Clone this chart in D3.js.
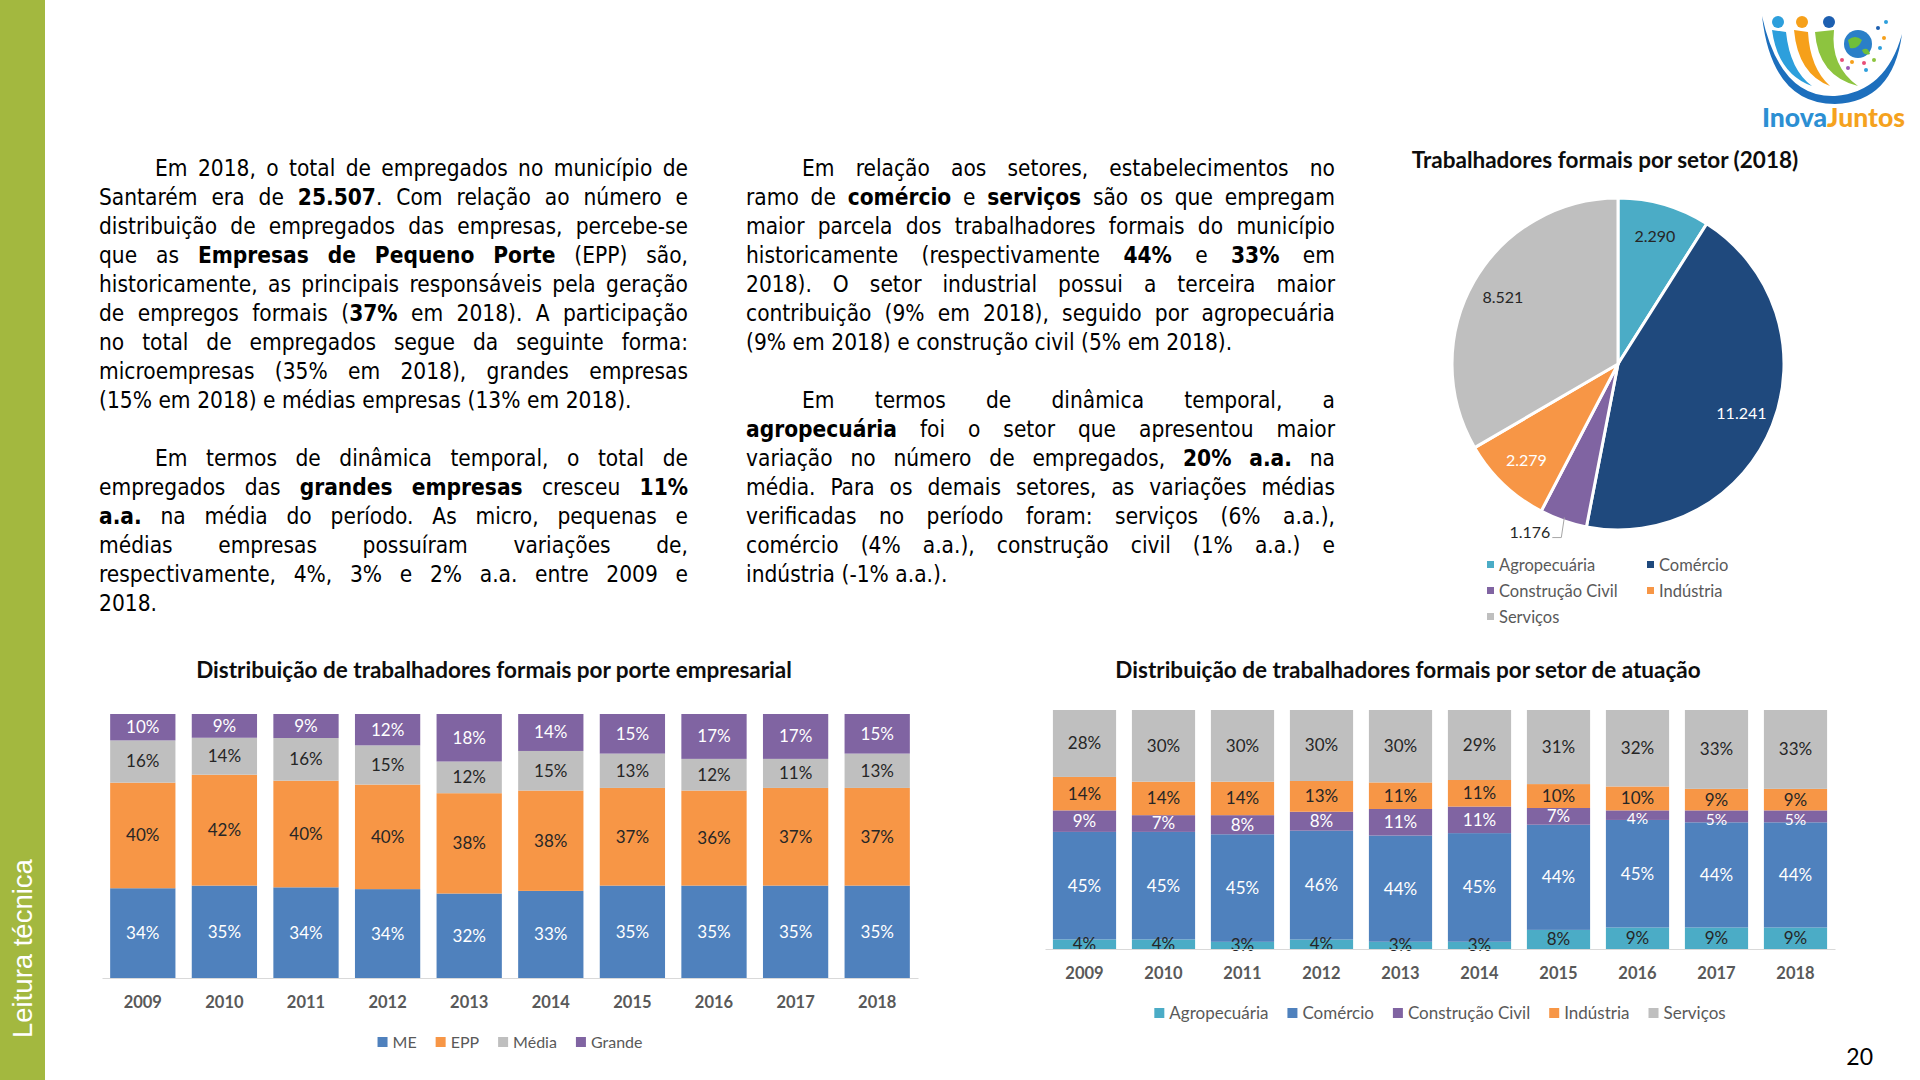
<!DOCTYPE html>
<html>
<head>
<meta charset="utf-8">
<script src="https://cdn.jsdelivr.net/npm/d3@7"></script>
<style>
  html, body { margin: 0; padding: 0; background: #fff; }
  svg { display: block; }
</style>
</head>
<body>
<script>
// data
const years = ['2009', '2010', '2011', '2012', '2013', '2014', '2015', '2016', '2017', '2018'];

// porte empresarial (%)
const porteKeys = ['ME', 'EPP', 'Média', 'Grande'];
const me = [34, 35, 34, 34, 32, 33, 35, 35, 35, 35];
const epp = [40, 42, 40, 40, 38, 38, 37, 36, 37, 37];
const media = [16, 14, 16, 15, 12, 15, 13, 12, 11, 13];
const grande = [10, 9, 9, 12, 18, 14, 15, 17, 17, 15];

// setor de atuação (%)
const setorKeys = ['Agropecuária', 'Comércio', 'Construção Civil', 'Indústria', 'Serviços'];
const agro = [4, 4, 3, 4, 3, 3, 8, 9, 9, 9];
const comercio = [45, 45, 45, 46, 44, 45, 44, 45, 44, 44];
const construcao = [9, 7, 8, 8, 11, 11, 7, 4, 5, 5];
const industria = [14, 14, 14, 13, 11, 11, 10, 10, 9, 9];
const servicos = [28, 30, 30, 30, 30, 29, 31, 32, 33, 33];

// pizza 2018
const pieLabels = ['Agropecuária', 'Comércio', 'Construção Civil', 'Indústria', 'Serviços'];
const pieValues = [2290, 11241, 1176, 2279, 8521];

// texto
const textLeft = [
	['Em 2018, o total de empregados no município de', 'Santarém era de **25.507**. Com relação ao número e', 'distribuição de empregados das empresas, percebe-se', 'que as **Empresas de Pequeno Porte** (EPP) são,', 'historicamente, as principais responsáveis pela geração', 'de empregos formais (**37%** em 2018). A participação', 'no total de empregados segue da seguinte forma:', 'microempresas (35% em 2018), grandes empresas', '(15% em 2018) e médias empresas (13% em 2018).'],
	['Em termos de dinâmica temporal, o total de', 'empregados das **grandes empresas** cresceu **11%**', '**a.a.** na média do período. As micro, pequenas e', 'médias empresas possuíram variações de,', 'respectivamente, 4%, 3% e 2% a.a. entre 2009 e', '2018.']
];
const textRight = [
	['Em relação aos setores, estabelecimentos no', 'ramo de **comércio** e **serviços** são os que empregam', 'maior parcela dos trabalhadores formais do município', 'historicamente (respectivamente **44%** e **33%** em', '2018). O setor industrial possui a terceira maior', 'contribuição (9% em 2018), seguido por agropecuária', '(9% em 2018) e construção civil (5% em 2018).'],
	['Em termos de dinâmica temporal, a', '**agropecuária** foi o setor que apresentou maior', 'variação no número de empregados, **20% a.a.** na', 'média. Para os demais setores, as variações médias', 'verificadas no período foram: serviços (6% a.a.),', 'comércio (4% a.a.), construção civil (1% a.a.) e', 'indústria (-1% a.a.).']
];

const chartFont = 'Lato, "Open Sans", sans-serif';
const bodyFont = '"DejaVu Sans Condensed", "DejaVu Sans", sans-serif';

const svg = d3.select('body').append('svg')
	.attr('width', 1920)
	.attr('height', 1080);

// barra lateral
svg.append('rect')
	.attr('x', 0).attr('y', 0)
	.attr('width', 45).attr('height', 1080)
	.attr('fill', '#a3b83f');

svg.append('text')
	.attr('transform', 'translate(32, 1038) rotate(-90)')
	.attr('fill', '#fff')
	.style('font-family', '"Liberation Sans", Arial, sans-serif')
	.style('font-size', '27.5px')
	.text('Leitura técnica');

// número da página
svg.append('text')
	.attr('x', 1873).attr('y', 1065)
	.attr('text-anchor', 'end')
	.style('font-family', chartFont)
	.style('font-size', '23px')
	.attr('fill', '#000')
	.text('20');

// logo
const logo = svg.append('g');
logo.append('path')
	.attr('d', 'M1762,16 Q1772,104 1835,104 Q1893,102 1902,34 Q1886,92 1835,96 Q1780,98 1762,16 Z')
	.attr('fill', '#1d6fbd');
logo.append('path')
	.attr('d', 'M1772,30 Q1778,74 1812,86 Q1790,70 1786,32 Z')
	.attr('fill', '#2d9fdc');
logo.append('path')
	.attr('d', 'M1794,30 Q1798,74 1830,86 Q1810,68 1808,32 Z')
	.attr('fill', '#f6a01a');
logo.append('path')
	.attr('d', 'M1815,32 Q1818,76 1858,86 Q1830,66 1834,30 Z')
	.attr('fill', '#8dc43f');
[[1778, 22, 6, '#2d9fdc'], [1802, 22, 6, '#f6a01a'], [1829, 22, 6, '#1d5fb0'], [1858, 44, 14, '#2a7fc8']].forEach(c => {
	logo.append('circle').attr('cx', c[0]).attr('cy', c[1]).attr('r', c[2]).attr('fill', c[3]);
});
logo.append('path')
	.attr('d', 'M1848,40 Q1855,34 1862,40 Q1858,50 1850,48 Z M1862,50 Q1868,46 1870,54 Q1864,56 1862,50 Z')
	.attr('fill', '#6fbf3a');
[[1842, 60, '#e94e77'], [1852, 62, '#f6a01a'], [1864, 63, '#e94e77'], [1874, 60, '#8dc43f'], [1848, 68, '#9b59b6'], [1866, 70, '#2d9fdc'], [1880, 48, '#2d9fdc'], [1878, 28, '#1d5fb0'], [1886, 22, '#2d9fdc'], [1884, 38, '#f6a01a']].forEach(c => {
	logo.append('circle').attr('cx', c[0]).attr('cy', c[1]).attr('r', 2).attr('fill', c[2]);
});
const logoText = logo.append('text')
	.attr('x', 1762).attr('y', 127)
	.style('font-family', chartFont)
	.style('font-weight', 900)
	.style('font-size', '26.5px');
logoText.append('tspan').attr('fill', '#2c8fd3').text('Inova');
logoText.append('tspan').attr('fill', '#f5a21e').text('Juntos');

// texto justificado
const fs = 22.5;
const lineH = 29;

function parseWords(str) {
	const words = [];
	let cur = [];
	str.split('**').forEach((part, i) => {
		const bold = i % 2 === 1;
		part.split(' ').forEach((piece, j) => {
			if (j > 0 && cur.length) { words.push(cur); cur = []; }
			if (piece) cur.push({ t: piece, b: bold });
		});
	});
	if (cur.length) words.push(cur);
	return words;
}

function drawParagraphs(paras, x0, width, y0) {
	const g = svg.append('g')
		.style('font-family', bodyFont)
		.style('font-stretch', 'condensed')
		.style('font-size', fs + 'px')
		.attr('fill', '#000');
	let row = 0;
	paras.forEach(lines => {
		lines.forEach((line, li) => {
			const indent = li === 0 ? 56 : 0;
			const last = li === lines.length - 1;
			const y = y0 + row * lineH;
			const nodes = parseWords(line).map(w => {
				const t = g.append('text').attr('y', y);
				w.forEach(r => t.append('tspan').style('font-weight', r.b ? 'bold' : 'normal').text(r.t));
				return { node: t, w: t.node().getComputedTextLength() };
			});
			const total = d3.sum(nodes, d => d.w);
			const avail = width - indent;
			const gap = last || nodes.length < 2 ? fs * 0.29 : (avail - total) / (nodes.length - 1);
			let x = x0 + indent;
			nodes.forEach(d => {
				d.node.attr('x', x);
				x += d.w + gap;
			});
			row++;
		});
		row++;
	});
}

drawParagraphs(textLeft, 99, 589, 176);
drawParagraphs(textRight, 746, 589, 176);

// gráficos de barras empilhadas (100%)
function legend(keys, colors, cx, cy, size, sqr) {
	const g = svg.append('g')
		.style('font-family', chartFont)
		.style('font-size', size + 'px')
		.attr('fill', '#595959');
	const items = keys.map(k => {
		const it = g.append('g');
		it.append('rect').attr('width', sqr).attr('height', sqr).attr('y', cy - sqr / 2).attr('fill', colors(k));
		const t = it.append('text').attr('x', sqr + 5).attr('y', cy).attr('dy', '0.35em').text(k);
		return { it, w: sqr + 5 + t.node().getComputedTextLength() };
	});
	const spacing = 19;
	const total = d3.sum(items, d => d.w) + spacing * (items.length - 1);
	let x = cx - total / 2;
	items.forEach(d => {
		d.it.attr('transform', `translate(${x},0)`);
		x += d.w + spacing;
	});
}

function stackedChart(opts) {
	const { keys, series, colors, whiteLabels, xRange, yRange, title, titleX, titleY, legendY, legendSize } = opts;
	const rows = years.map((yr, i) => {
		const r = { year: yr };
		keys.forEach((k, j) => { r[k] = series[j][i]; });
		return r;
	});

	const xScale = d3.scaleBand()
		.domain(years)
		.range(xRange)
		.paddingInner(0.2)
		.paddingOuter(0.1);

	const yScale = d3.scaleLinear()
		.domain([0, 1])
		.range(yRange);

	const color = d3.scaleOrdinal().domain(keys).range(colors);

	const stacked = d3.stack().keys(keys).offset(d3.stackOffsetExpand)(rows);

	const g = svg.append('g');

	const layer = g.selectAll('g.layer')
		.data(stacked)
		.join('g')
		.attr('class', 'layer')
		.attr('fill', d => color(d.key));

	layer.selectAll('rect')
		.data(d => d)
		.join('rect')
		.attr('x', d => xScale(d.data.year))
		.attr('width', xScale.bandwidth())
		.attr('y', d => yScale(d[1]))
		.attr('height', d => yScale(d[0]) - yScale(d[1]));

	// rótulos: segmentos finos (acima da base) ganham fonte menor e leve deslocamento
	stacked.forEach((s, si) => {
		g.append('g')
			.style('font-family', chartFont)
			.attr('fill', whiteLabels.includes(s.key) ? '#fff' : '#262626')
			.attr('text-anchor', 'middle')
			.selectAll('text')
			.data(s)
			.join('text')
			.each(function (d) {
				const h = yScale(d[0]) - yScale(d[1]);
				const thin = si > 0 && h < 16;
				d3.select(this)
					.style('font-size', thin ? '15.5px' : '17px')
					.attr('x', xScale(d.data.year) + xScale.bandwidth() / 2)
					.attr('y', (yScale(d[0]) + yScale(d[1])) / 2 + (thin ? 3 : 0))
					.attr('dy', '0.35em')
					.text(d.data[s.key] + '%');
			});
	});

	const xAxis = d3.axisBottom(xScale).tickSize(0).tickSizeOuter(0).tickPadding(18);
	const ax = g.append('g')
		.attr('transform', `translate(0, ${yRange[0]})`)
		.call(xAxis);
	ax.select('.domain').attr('stroke', '#d9d9d9');
	ax.selectAll('text')
		.style('font-family', chartFont)
		.style('font-size', '16.5px')
		.style('font-weight', 'bold')
		.attr('fill', '#595959');

	svg.append('text')
		.attr('x', titleX)
		.attr('y', titleY)
		.attr('text-anchor', 'middle')
		.style('font-family', chartFont)
		.style('font-size', '22.5px')
		.style('font-weight', 'bold')
		.attr('fill', '#0d0d0d')
		.text(title);

	legend(keys, color, (xRange[0] + xRange[1]) / 2, legendY, legendSize, 10);
}

stackedChart({
	keys: porteKeys,
	series: [me, epp, media, grande],
	colors: ['#4f81bd', '#f79646', '#bfbfbf', '#8064a2'],
	whiteLabels: ['ME', 'Grande'],
	xRange: [102, 918],
	yRange: [978, 714],
	title: 'Distribuição de trabalhadores formais por porte empresarial',
	titleX: 494,
	titleY: 678,
	legendY: 1042,
	legendSize: 16
});

stackedChart({
	keys: setorKeys,
	series: [agro, comercio, construcao, industria, servicos],
	colors: ['#4bacc6', '#4f81bd', '#8064a2', '#f79646', '#bfbfbf'],
	whiteLabels: ['Comércio', 'Construção Civil'],
	xRange: [1045, 1835],
	yRange: [949, 710],
	title: 'Distribuição de trabalhadores formais por setor de atuação',
	titleX: 1408,
	titleY: 678,
	legendY: 1013,
	legendSize: 17
});

// pizza
const pieColors = d3.scaleOrdinal()
	.domain(pieLabels)
	.range(['#4bacc6', '#1f497d', '#8064a2', '#f79646', '#bfbfbf']);
const pieLabelColors = ['#262626', '#fff', '#262626', '#fff', '#262626'];

const radius = 166;
const pieG = svg.append('g').attr('transform', 'translate(1618, 364)');
const arcs = d3.pie().sort(null).value(d => d)(pieValues);
const arc = d3.arc().innerRadius(0).outerRadius(radius);
const labelArc = d3.arc().innerRadius(radius * 0.8).outerRadius(radius * 0.8);
const fmt = d3.formatLocale({ decimal: ',', thousands: '.', grouping: [3], currency: ['R$', ''] }).format(',');

pieG.selectAll('path')
	.data(arcs)
	.join('path')
	.attr('d', arc)
	.attr('fill', (d, i) => pieColors(pieLabels[i]))
	.attr('stroke', '#fff')
	.attr('stroke-width', 3);

arcs.forEach((d, i) => {
	const share = d.value / d3.sum(pieValues);
	if (share > 0.06) {
		const [lx, ly] = labelArc.centroid(d);
		pieG.append('text')
			.attr('x', lx).attr('y', ly)
			.attr('dy', '0.35em')
			.attr('text-anchor', 'middle')
			.style('font-family', chartFont)
			.style('font-size', '16px')
			.attr('fill', pieLabelColors[i])
			.text(fmt(d.value));
	} else {
		// rótulo externo com linha guia
		const mid = (d.startAngle + d.endAngle) / 2;
		const ex = Math.sin(mid) * radius * 0.98;
		const ey = -Math.cos(mid) * radius * 0.98;
		const tx = ex - 12;
		const ty = ey + 20;
		pieG.append('path')
			.attr('d', `M${ex},${ey} L${ex - 3},${ty} L${tx},${ty}`)
			.attr('fill', 'none')
			.attr('stroke', '#a6a6a6');
		pieG.append('text')
			.attr('x', tx - 2).attr('y', ty)
			.attr('dy', '0.05em')
			.attr('text-anchor', 'end')
			.style('font-family', chartFont)
			.style('font-size', '16px')
			.attr('fill', pieLabelColors[i])
			.text(fmt(d.value));
	}
});

svg.append('text')
	.attr('x', 1605).attr('y', 168)
	.attr('text-anchor', 'middle')
	.style('font-family', chartFont)
	.style('font-size', '22.5px')
	.style('font-weight', 'bold')
	.attr('fill', '#0d0d0d')
	.text('Trabalhadores formais por setor (2018)');

const pieLeg = svg.append('g')
	.style('font-family', chartFont)
	.style('font-size', '16.5px')
	.attr('fill', '#595959');
pieLabels.forEach((k, i) => {
	const x = i % 2 === 0 ? 1487 : 1647;
	const y = 565 + Math.floor(i / 2) * 26;
	pieLeg.append('rect').attr('x', x).attr('y', y - 4).attr('width', 7).attr('height', 7).attr('fill', pieColors(k));
	pieLeg.append('text').attr('x', x + 12).attr('y', y).attr('dy', '0.35em').text(k);
});
</script>
</body>
</html>
